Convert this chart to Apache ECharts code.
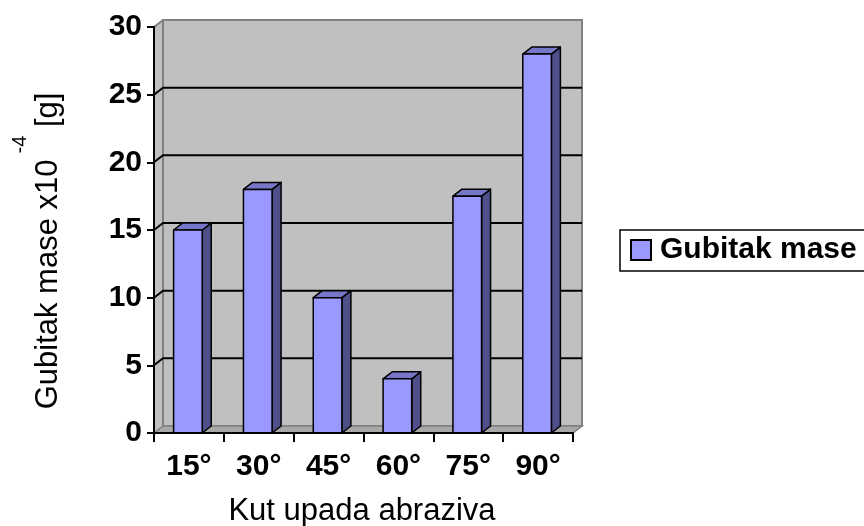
<!DOCTYPE html>
<html>
<head>
<meta charset="utf-8">
<script src="https://cdn.jsdelivr.net/npm/echarts@6/dist/echarts.min.js"></script>
<style>html,body{margin:0;padding:0;background:#fff;}#c{width:864px;height:526px;}</style>
</head>
<body>
<div id="c"></div>
<script>
const categories = ['15°', '30°', '45°', '60°', '75°', '90°'];
const massLoss = [15, 18, 10, 4, 17.5, 28];
const seriesName = 'Gubitak mase';
const xTitle = 'Kut upada abraziva';
const yTitleMain = 'Gubitak mase x10';
const yTitleSup = '-4';
const yTitleUnit = ' [g]';
const yMin = 0, yMax = 30, yStep = 5;

const FONT = "'Liberation Sans', Arial, sans-serif";
const DX = 9, DY = -7;

const chart = echarts.init(document.getElementById('c'), null, {renderer: 'canvas'});

function wallsRender(params, api) {
  const cs = params.coordSys;
  const x0 = cs.x, x1 = cs.x + cs.width, yT = cs.y, yB = cs.y + cs.height;
  const children = [];
  children.push({type: 'polygon', shape: {points: [[x0, yT], [x0 + DX, yT + DY], [x0 + DX, yB + DY], [x0, yB]]},
    style: {fill: '#c0c0c0', stroke: null}});
  children.push({type: 'rect', shape: {x: x0 + DX, y: yT + DY, width: cs.width, height: cs.height},
    style: {fill: '#c0c0c0', stroke: '#808080', lineWidth: 2}});
  children.push({type: 'polygon', shape: {points: [[x0, yB], [x0 + DX, yB + DY], [x1 + DX, yB + DY], [x1, yB]]},
    style: {fill: '#a8a8a8', stroke: '#808080', lineWidth: 1.5}});
  children.push({type: 'line', shape: {x1: x0, y1: yT, x2: x0 + DX, y2: yT + DY},
    style: {stroke: '#808080', lineWidth: 2}});
  for (let v = yMin + yStep; v < yMax; v += yStep) {
    const y = api.coord([0, v])[1];
    children.push({type: 'polyline', shape: {points: [[x0, y], [x0 + DX, y + DY], [x1 + DX, y + DY]]},
      style: {stroke: '#000', lineWidth: 2, fill: null}});
  }
  return {type: 'group', children};
}

function barRender(params, api) {
  const idx = api.value(0);
  const val = api.value(1);
  const top = api.coord([idx, val]);
  const base = api.coord([idx, 0]);
  const w = api.size([1, 0])[0] * 0.41;
  const xl = top[0] - w / 2 - 1, xr = xl + w, yt = top[1], yb = base[1];
  const st = {stroke: '#000', lineWidth: 1.5, lineJoin: 'round'};
  return {type: 'group', children: [
    {type: 'polygon', shape: {points: [[xr, yt], [xr + DX, yt + DY], [xr + DX, yb + DY], [xr, yb]]},
      style: Object.assign({fill: '#4f4f8a'}, st)},
    {type: 'polygon', shape: {points: [[xl, yt], [xl + DX, yt + DY], [xr + DX, yt + DY], [xr, yt]]},
      style: Object.assign({fill: '#7777c7'}, st)},
    {type: 'rect', shape: {x: xl, y: yt, width: w, height: yb - yt},
      style: Object.assign({fill: '#9999ff'}, st)}
  ]};
}

const option = {
  animation: false,
  backgroundColor: '#fff',
  grid: {left: 154, top: 27, width: 419, height: 406, containLabel: false},
  legend: {
    data: [seriesName],
    left: 620, top: 230,
    orient: 'vertical',
    padding: [5, 14, 6, 10],
    borderColor: '#000', borderWidth: 1.5,
    itemWidth: 20, itemHeight: 20, itemGap: 0,
    icon: 'rect',
    textStyle: {fontFamily: FONT, fontSize: 30, fontWeight: 'bold', color: '#000', padding: [0, 0, 0, 4]}
  },
  xAxis: {
    type: 'category',
    data: categories,
    z: 10,
    axisLine: {lineStyle: {color: '#000', width: 2}},
    axisTick: {show: true, length: 9, lineStyle: {color: '#000', width: 2}},
    axisLabel: {fontFamily: FONT, fontSize: 30, fontWeight: 'bold', color: '#000', margin: 19},
    splitLine: {show: false}
  },
  yAxis: {
    type: 'value',
    min: yMin, max: yMax, interval: yStep,
    z: 10,
    axisLine: {show: true, lineStyle: {color: '#000', width: 2}},
    axisTick: {show: true, length: 7, lineStyle: {color: '#000', width: 2}},
    axisLabel: {fontFamily: FONT, fontSize: 30, fontWeight: 'bold', color: '#000', margin: 12},
    splitLine: {show: false}
  },
  graphic: [
    {type: 'text', x: 362, y: 511, style: {text: xTitle, font: "31px " + FONT, fill: '#000', textAlign: 'center', textVerticalAlign: 'middle'}},
    {type: 'text', x: 37, y: 251, rotation: Math.PI / 2,
      style: {text: '{a|' + yTitleMain + '}{s|' + yTitleSup + '}{a|' + yTitleUnit + '}', textAlign: 'center', textVerticalAlign: 'middle',
        rich: {
          a: {fontFamily: FONT, fontSize: 31, fill: '#000', verticalAlign: 'bottom'},
          s: {fontFamily: FONT, fontSize: 20, fill: '#000', verticalAlign: 'top', padding: [0, 0, 34, 6]}
        }}}
  ],
  series: [
    {type: 'custom', name: 'walls', renderItem: wallsRender, data: [[0, 0]], z: 1, silent: true, clip: false},
    {type: 'custom', name: seriesName, renderItem: barRender, z: 2,
      itemStyle: {color: '#9999ff', borderColor: '#000', borderWidth: 1.5},
      data: massLoss.map((v, i) => [i, v])}
  ]
};
chart.setOption(option);
</script>
</body>
</html>
